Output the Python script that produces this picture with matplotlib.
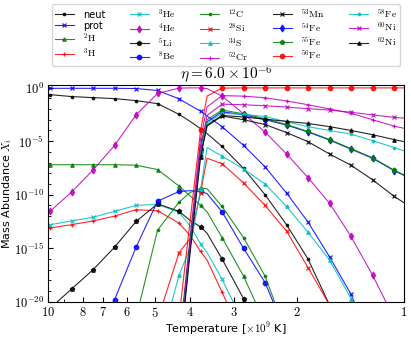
import numpy as np
import matplotlib
matplotlib.use('Agg')
import matplotlib.pyplot as plt
from matplotlib.ticker import FixedLocator, FixedFormatter, NullFormatter

plt.rcParams['mathtext.fontset'] = 'cm'
plt.rcParams['font.size'] = 8

nan = np.nan

# temperature grid [1e9 K]; markers only on the indices in `marked`
temp = [10.0, 9.87, 8.59, 7.475, 6.505, 5.66, 4.925, 4.286, 3.992, 3.729, 3.575,
        3.245, 2.824, 2.457, 2.138, 1.861, 1.619, 1.409, 1.226, 1.067, 1.0]
marked = [1, 2, 3, 4, 5, 6, 7, 9, 11, 12, 13, 14, 15, 16, 17, 18, 19]

# log10 of the mass abundance on the grid above
neut = [-0.64, -0.66, -0.84, -0.94, -1.03, -1.22, -1.5, -2.5, -3.15, -3.84, -4.3,
        -5.5, -7.55, -10.0, -12.8, -16.0, -20.3, -25, -31, -37, -40]
prot = [-0.07, -0.07, -0.07, -0.07, -0.07, -0.09, -0.27, -1.05, -1.65, -2.2, -2.65,
        -3.65, -5.4, -7.4, -9.85, -12.55, -15.8, -19.3, -24, -29, -31]
h2 = [-7.2, -7.2, -7.2, -7.2, -7.2, -7.25, -7.65, -9.2, -10.1, -11.0, -11.6,
      -14.0, -17.6, -22, -28, -34, nan, nan, nan, nan, nan]
h3 = [-13.15, -13.1, -12.8, -12.45, -12.0, -11.4, -11.5, -12.65, -13.8, -15.3, -16.1,
      -19.1, -23.5, -29, nan, nan, nan, nan, nan, nan, nan]
he3 = [-12.85, -12.8, -12.45, -12.1, -11.55, -11.0, -10.9, -11.65, -12.9, -14.6, -15.4,
       -17.9, -22, -27, nan, nan, nan, nan, nan, nan, nan]
he4 = [-11.75, -11.55, -9.75, -7.7, -5.4, -2.55, -0.55, -0.05, -0.03, -0.03, -0.1,
       -0.8, -2.45, -4.15, -6.2, -8.4, -10.8, -13.9, -17.5, -21.5, -23.5]
li5 = [-20.8, -20.6, -18.8, -17.0, -14.9, -12.5, -10.85, -11.55, -12.4, -13.0, -13.6,
       -16.0, -19.7, -25, nan, nan, nan, nan, nan, nan, nan]
be8 = [nan, nan, -30, -24, -19.8, -14.9, -10.6, -9.7, -9.62, -9.7, -9.9,
       -11.6, -15.0, -18.2, -23, nan, nan, nan, nan, nan, nan]
c12 = [nan, nan, nan, -35, -28, -21.5, -13.3, -10.7, -9.8, -9.4, -9.45,
       -11.1, -14.0, -17.6, -23, nan, nan, nan, nan, nan, nan]
si28 = [nan, nan, nan, nan, nan, -30, -21.7, -15.4, -14.1, -9.8, -6.6,
        -7.1, -8.9, -11.0, -13.4, -16.8, -20.3, -25, nan, nan, nan]
s34 = [nan, nan, nan, nan, nan, -32, -25, -17.5, -15.0, -9.5, -5.6,
       -6.4, -7.6, -9.0, -11.1, -13.5, -16.1, -19.7, -24, -29, -31]
cr52 = [nan, nan, nan, nan, nan, nan, nan, -24, -14, -4.8, -1.8,
        -0.75, -0.8, -0.95, -1.25, -1.6, -2.0, -2.4, -3.0, -3.6, -3.8]
mn53 = [nan, nan, nan, nan, nan, nan, nan, -25, -15, -6.2, -3.6,
        -2.65, -3.0, -3.45, -4.2, -5.05, -6.2, -7.25, -8.6, -10.15, -10.75]
fe54 = [nan, nan, nan, nan, nan, nan, nan, -24.5, -14.5, -5.8, -3.2,
        -2.25, -2.55, -3.0, -3.5, -4.15, -4.9, -5.75, -6.6, -7.75, -8.2]
fe55 = [nan, nan, nan, nan, nan, nan, nan, -24.5, -14.5, -5.7, -3.0,
        -2.1, -2.45, -2.9, -3.45, -4.1, -4.85, -5.7, -6.55, -7.7, -8.15]
fe56 = [nan, nan, nan, nan, nan, nan, nan, -21.5, -12.5, -4.0, -0.8,
        -0.05, -0.03, -0.03, -0.03, -0.03, -0.03, -0.03, -0.03, -0.03, -0.03]
fe58 = [nan, nan, nan, nan, nan, nan, nan, -25, -15, -6.0, -3.3,
        -2.4, -2.5, -2.7, -3.2, -3.65, -4.0, -4.35, -4.95, -5.6, -5.9]
ni60 = [nan, nan, nan, nan, nan, nan, nan, -25, -15, -5.5, -2.6,
        -1.55, -1.6, -1.7, -1.82, -1.97, -2.1, -2.3, -2.55, -2.78, -2.85]
ni62 = [nan, nan, nan, nan, nan, nan, nan, -25.5, -15.5, -6.5, -3.5,
        -2.6, -2.75, -2.95, -3.15, -3.35, -3.65, -4.0, -4.4, -4.85, -5.05]

species = [
    ('neut', neut), ('prot', prot), (r'$^{2}\mathrm{H}$', h2), (r'$^{3}\mathrm{H}$', h3),
    (r'$^{3}\mathrm{He}$', he3), (r'$^{4}\mathrm{He}$', he4), (r'$^{5}\mathrm{Li}$', li5),
    (r'$^{8}\mathrm{Be}$', be8), (r'$^{12}\mathrm{C}$', c12), (r'$^{28}\mathrm{Si}$', si28),
    (r'$^{34}\mathrm{S}$', s34), (r'$^{52}\mathrm{Cr}$', cr52), (r'$^{53}\mathrm{Mn}$', mn53),
    (r'$^{54}\mathrm{Fe}$', fe54), (r'$^{55}\mathrm{Fe}$', fe55), (r'$^{56}\mathrm{Fe}$', fe56),
    (r'$^{58}\mathrm{Fe}$', fe58), (r'$^{60}\mathrm{Ni}$', ni60), (r'$^{62}\mathrm{Ni}$', ni62),
]

colors = ['k', 'b', 'g', 'r', 'c', 'm']
markers = ['.', 'x', '^', '+', 'x', 'd', 'p', 'o']
msizes = {'.': 3.5, 'x': 3, '^': 2.5, '+': 3.5, 'd': 3.5, 'p': 3.2, 'o': 3.2}

fig = plt.figure(figsize=(4.11, 3.38), dpi=100)
ax = fig.add_axes([0.117, 0.107, 0.866, 0.642])

for i, (name, logx) in enumerate(species):
    m = markers[i % len(markers)]
    ax.plot(temp, np.power(10.0, logx), color=colors[i % len(colors)], lw=0.8,
            marker=m, ms=msizes[m], mew=0.9, markevery=marked, alpha=0.85, label=name)

ax.set_xscale('log')
ax.set_yscale('log')
ax.set_xlim(10, 1)
ax.set_ylim(1e-20, 1.8)

xt = [10, 8, 7, 6, 5, 4, 3, 2, 1]
ax.xaxis.set_major_locator(FixedLocator(xt))
ax.xaxis.set_major_formatter(FixedFormatter([f'${t}$' for t in xt]))
ax.xaxis.set_minor_locator(FixedLocator([9]))
ax.xaxis.set_minor_formatter(NullFormatter())

yt = [1e0, 1e-5, 1e-10, 1e-15, 1e-20]
ax.yaxis.set_major_locator(FixedLocator(yt))
ax.yaxis.set_major_formatter(FixedFormatter([r'$10^{0}$', r'$10^{-5}$', r'$10^{-10}$',
                                             r'$10^{-15}$', r'$10^{-20}$']))
ax.yaxis.set_minor_locator(FixedLocator([10.0 ** k for k in range(-19, 0) if k % 5]))
ax.yaxis.set_minor_formatter(NullFormatter())
ax.tick_params(which='both', direction='in', labelsize=9, pad=3)

ax.set_xlabel(r'Temperature [$\times 10^9$ K]', fontsize=8, labelpad=0)
ax.set_ylabel(r'Mass Abundance $X_i$', fontsize=8, labelpad=0)
ax.set_title(r'$\eta = 6.0 \times 10^{-6}$', fontsize=11, pad=3)

ax.legend(loc='lower center', bbox_to_anchor=(0.5, 1.085), ncol=5, fontsize=7,
          labelspacing=0.1, borderpad=0.3, columnspacing=2.5, handlelength=2.0,
          handletextpad=0.9, borderaxespad=0)

fig.savefig('out.png', dpi=100)
